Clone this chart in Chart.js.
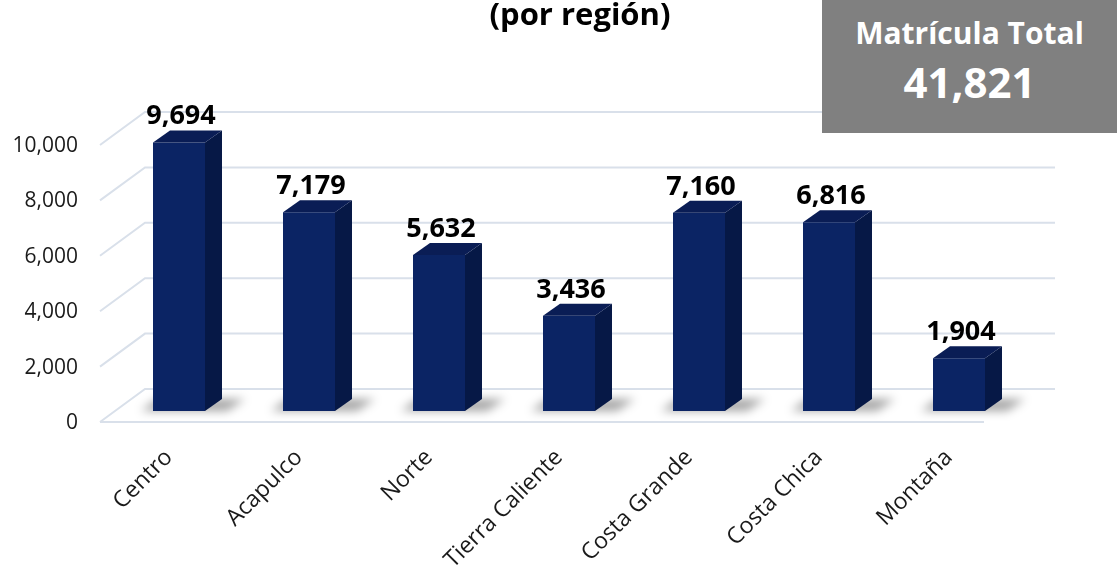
<!DOCTYPE html>
<html>
<head>
<meta charset="utf-8">
<script src="https://cdn.jsdelivr.net/npm/chart.js@4"></script>
<style>
  html, body { margin: 0; padding: 0; background: #fff; }
  #wrap { position: relative; width: 1117px; height: 575px; overflow: hidden; }
  #title { position: absolute; left: 430px; width: 300px; top: -8px; text-align: center;
    font: bold 31px "Open Sans", sans-serif; color: #000; }
  #total { position: absolute; left: 822px; top: 0; width: 295px; height: 133px; background: #808080;
    color: #fff; text-align: center; font-family: "Open Sans", sans-serif; font-weight: bold; }
  #total .lbl { font-size: 30px; line-height: 40px; margin-top: 13px; }
  #total .num { font-size: 42px; line-height: 50px; margin-top: 4px; }
</style>
</head>
<body>
<div id="wrap">
  <canvas id="regionChart" width="1117" height="575"></canvas>
  <div id="title">(por región)</div>
  <div id="total"><div class="lbl">Matrícula Total</div><div class="num">41,821</div></div>
</div>
<script>
// datos por región
const regiones = ['Centro', 'Acapulco', 'Norte', 'Tierra Caliente', 'Costa Grande', 'Costa Chica', 'Montaña'];
const matricula = [9694, 7179, 5632, 3436, 7160, 6816, 1904];
const yTicks = [0, 2000, 4000, 6000, 8000, 10000];

const fmt = v => v.toLocaleString('en-US');

// piso, paredes y caras laterales para imitar el 3D de Excel
const bars3d = {
	id: 'bars3d',
	beforeDatasetsDraw(chart) {
		const ctx = chart.ctx;
		const area = chart.chartArea;
		const y = chart.scales.y;
		ctx.save();
		ctx.strokeStyle = '#d9e0ea';
		ctx.lineWidth = 2;
		yTicks.forEach(t => {
			const py = y.getPixelForValue(t);
			ctx.beginPath();
			ctx.moveTo(area.left - 14, py + 11);
			ctx.lineTo(area.left + 31, py - 22);
			ctx.lineTo(area.right + 31, py - 22);
			ctx.stroke();
		});
		// borde frontal del piso
		const p0 = y.getPixelForValue(0);
		ctx.beginPath();
		ctx.moveTo(area.left - 14, p0 + 11);
		ctx.lineTo(area.right - 40, p0 + 11);
		ctx.stroke();

		// sombras
		const meta = chart.getDatasetMeta(0);
		ctx.filter = 'blur(5px)';
		ctx.fillStyle = 'rgba(0,0,0,0.35)';
		meta.data.forEach(bar => {
			const l = bar.x - bar.width / 2, r = bar.x + bar.width / 2, b = bar.base;
			ctx.beginPath();
			ctx.moveTo(l - 12, b);
			ctx.lineTo(r + 22, b);
			ctx.lineTo(r + 40, b - 12);
			ctx.lineTo(l + 4, b - 12);
			ctx.closePath();
			ctx.fill();
		});
		ctx.restore();
	},
	afterDatasetsDraw(chart) {
		const ctx = chart.ctx;
		const meta = chart.getDatasetMeta(0);
		const dx = 17, dy = 12;
		ctx.save();
		meta.data.forEach((bar, i) => {
			const l = bar.x - bar.width / 2, r = bar.x + bar.width / 2;
			// lado
			ctx.fillStyle = '#061846';
			ctx.beginPath();
			ctx.moveTo(r, bar.y);
			ctx.lineTo(r + dx, bar.y - dy);
			ctx.lineTo(r + dx, bar.base - dy);
			ctx.lineTo(r, bar.base);
			ctx.closePath();
			ctx.fill();
			// tapa
			ctx.fillStyle = '#0a1d55';
			ctx.beginPath();
			ctx.moveTo(l, bar.y);
			ctx.lineTo(l + dx, bar.y - dy);
			ctx.lineTo(r + dx, bar.y - dy);
			ctx.lineTo(r, bar.y);
			ctx.closePath();
			ctx.fill();
			// etiqueta de valor
			ctx.fillStyle = '#000';
			ctx.font = 'bold 27px "Open Sans", sans-serif';
			ctx.textAlign = 'center';
			ctx.textBaseline = 'alphabetic';
			ctx.fillText(fmt(matricula[i]), bar.x + 2, bar.y - 18);
		});
		ctx.restore();
	}
};

const ctx = document.getElementById('regionChart').getContext('2d');
new Chart(ctx, {
	type: 'bar',
	data: {
		labels: regiones,
		datasets: [{
			data: matricula,
			backgroundColor: '#0b2464',
			borderWidth: 0,
			categoryPercentage: 0.8,
			barPercentage: 0.5
		}]
	},
	options: {
		responsive: false,
		animation: false,
		layout: { padding: { top: 134, right: 93, left: 0, bottom: 0 } },
		scales: {
			y: {
				min: 0,
				max: 10000,
				afterBuildTicks: s => { s.ticks = yTicks.map(v => ({ value: v })); },
				afterFit: s => { s.width = 114; },
				grid: { display: false, drawTicks: false },
				border: { display: false },
				ticks: {
					padding: 36,
					labelOffset: 12,
					color: '#1a1a1a',
					font: { family: 'Open Sans', size: 21 },
					callback: v => fmt(v)
				}
			},
			x: {
				afterFit: s => { s.height = 164; },
				grid: { display: false, drawTicks: false },
				border: { display: false },
				ticks: {
					minRotation: 45,
					maxRotation: 45,
					padding: 33,
					labelOffset: -10,
					color: '#1a1a1a',
					font: { family: 'Open Sans', size: 23 }
				}
			}
		},
		plugins: {
			legend: { display: false },
			tooltip: { enabled: false }
		}
	},
	plugins: [bars3d]
});
</script>
</body>
</html>
